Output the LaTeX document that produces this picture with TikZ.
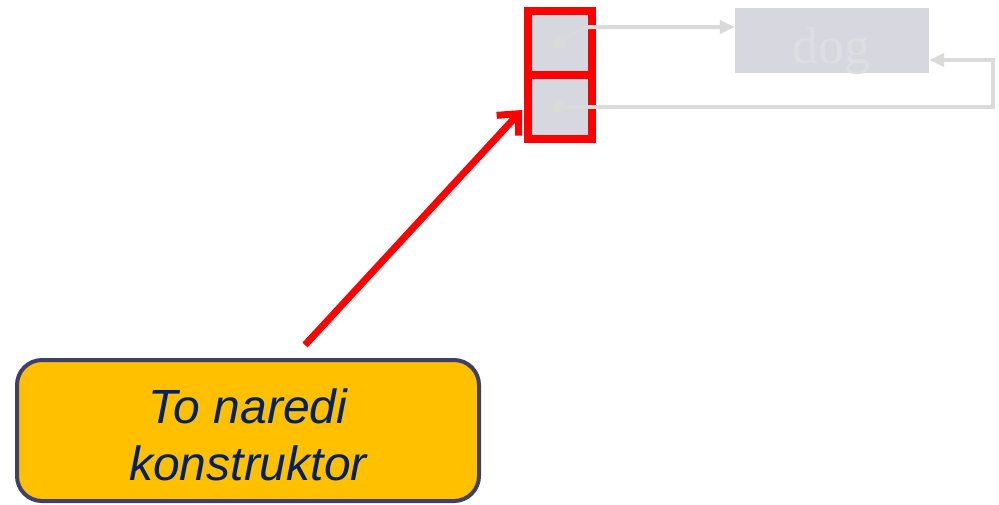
\documentclass[tikz,border=0pt]{standalone}
\usepackage{fontspec}
\setmainfont{Liberation Serif}
\newfontfamily\boxfont{Liberation Sans}
\usetikzlibrary{arrows.meta}
\definecolor{cellgrey}{HTML}{D7D7DF}
\definecolor{linegrey}{HTML}{DADADA}
\definecolor{textgrey}{HTML}{DEDEE2}
\definecolor{boxyellow}{HTML}{FFC000}
\definecolor{boxborder}{HTML}{3F3F6B}
\definecolor{navy}{HTML}{002060}
\begin{document}
\begin{tikzpicture}[x=1pt,y=-1pt,
  cell/.style={fill=cellgrey,draw=red,line width=8pt,minimum width=64pt,minimum height=64pt,inner sep=0pt},
  ptr/.style={draw=linegrey,line width=4pt,-{Triangle[length=15pt,width=13pt]}},
  dot/.style={circle,fill=linegrey,inner sep=0pt,minimum size=13pt},
  callout/.style={rounded corners=25pt,fill=boxyellow,draw=boxborder,line width=4pt,minimum width=462pt,minimum height=141pt},
  callouttext/.style={align=center,font=\boxfont\itshape\fontsize{48}{57}\selectfont,text=navy},
  redarrow/.style={draw=red,line width=7pt,-{Straight Barb[length=16pt,width=30pt,line width=7pt]}}]
\useasboundingbox (0,0) rectangle (999,504);
\node[cell] (c1) at (560,43) {};
\node[cell] (c2) at (560,107) {};
\node[fill=cellgrey,minimum width=194pt,minimum height=65pt,inner sep=0pt] (dog) at (832,40.5) {};
\node[font=\fontsize{52}{60}\selectfont,text=textgrey,anchor=base] (dogtext) at (831,63) {dog};
\node[dot] (d1) at (559,43) {};
\node[dot] (d2) at (559,107) {};
\coordinate (k1) at (592,27);
\coordinate (r1) at (993,107);
\coordinate (r2) at (993,60);
\draw[ptr] (d1.center) .. controls (575,32) and (582,27) .. (k1) -- (dog.west |- k1);
\draw[ptr] (d2.center) -- (r1) -- (r2) -- (dog.east |- r2);
\node[callout] (cb) at (248,430.5) {};
\node[callouttext] (cbt) at (248,435) {To naredi\\konstruktor};
\coordinate (tail) at (305,345);
\coordinate (tip) at (522,110);
\draw[redarrow] (tail) -- (tip);
\end{tikzpicture}
\end{document}
